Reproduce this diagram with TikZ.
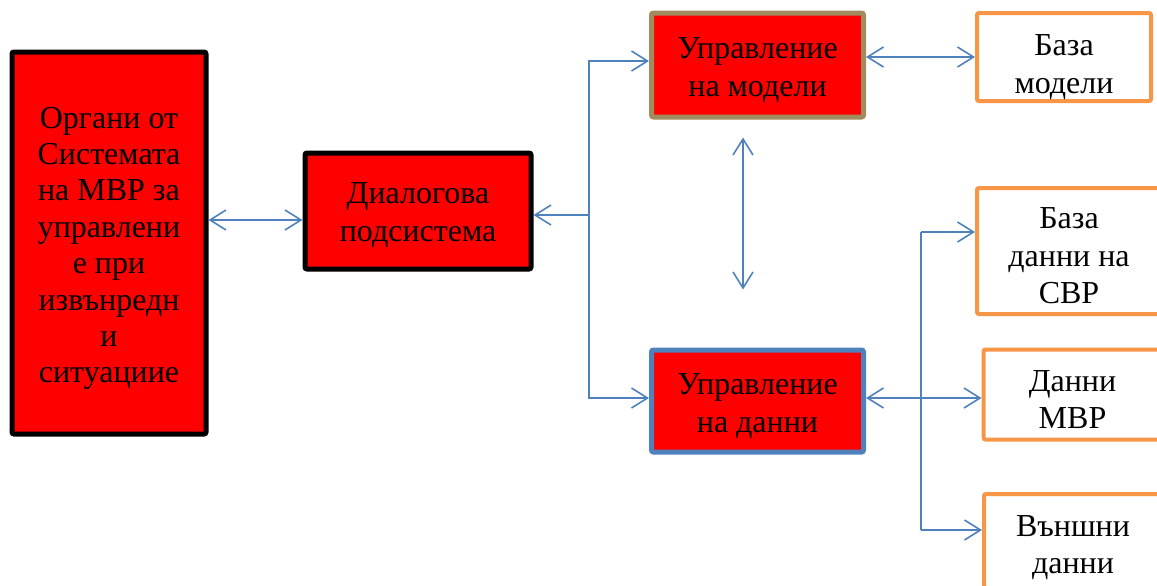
\documentclass[tikz,border=0pt]{standalone}
\usepackage{fontspec}
\setmainfont{Liberation Serif}
\usepackage{xcolor}
\usetikzlibrary{arrows.meta}
\definecolor{linkblue}{HTML}{4F81BD}
\definecolor{boxorange}{HTML}{F79646}
\definecolor{boxolive}{HTML}{A08C5F}
\newcommand{\drop}[1]{\rule{0pt}{#1}}
\begin{document}
\begin{tikzpicture}[x=0.5pt, y=-0.5pt,
		box/.style={draw, rectangle, fill=red, line width=2.5pt, rounded corners=1pt, align=center,
			inner sep=0pt, font=\fontsize{16}{18.7}\selectfont},
		store/.style={box, fill=white, draw=boxorange, line width=2pt},
		link/.style={draw=linkblue, line width=0.8pt, >={Straight Barb[length=8pt,width=10pt]}}]
				\useasboundingbox (0,0) rectangle (1157,585);
				
				\node[box, draw=black, minimum width=97pt, minimum height=191pt,
					font=\fontsize{16}{18.2}\selectfont] (Organs) at (109,243)
					{\drop{16pt}Органи от\\Системата\\на МВР за\\управлени\\е при\\извънредн\\и\\ситуациие};
				\node[box, draw=black, minimum width=113pt, minimum height=58pt] (Dialog) at (418,211)
					{\drop{14.5pt}Диалогова\\подсистема};
				\node[box, draw=boxolive, minimum width=106pt, minimum height=52pt] (Models) at (757.5,65)
					{\drop{15.5pt}Управление\\на модели};
				\node[box, draw=linkblue, minimum width=106pt, minimum height=51pt] (Data) at (757.5,401)
					{\drop{15.5pt}Управление\\на данни};
				
				\node[store, minimum width=87pt, minimum height=44pt] (ModelBase) at (1064,57) {\drop{20.5pt}База\\модели};
				\node[store, minimum width=92pt, minimum height=63pt] (SVRBase) at (1069,251) {\drop{15.5pt}База\\данни на\\СВР};
				\node[store, minimum width=89pt, minimum height=45pt] (MVRData) at (1072.5,394.5) {\drop{15.5pt}Данни\\МВР};
				\node[store, minimum width=89pt, minimum height=47pt] (OuterData) at (1073,541) {\drop{17pt}Външни\\данни};
				
				\coordinate (LeftBus) at (589,215);
				\coordinate (BusTop) at (921,232);
				\coordinate (BusBottom) at (921,530);
				
				\draw[link, <->] (Organs.east |- 0,220) -- (Dialog.west |- 0,220);
				\draw[link, <-] (Dialog.east |- LeftBus) -- (LeftBus);
				\draw[link, ->] (LeftBus) |- (Models.west |- 0,61);
				\draw[link, ->] (LeftBus) |- (Data.west |- 0,398);
				\draw[link, <->, shorten <=9pt, shorten >=29pt] (Models.south -| 743,0) -- (Data.north -| 743,0);
				\draw[link, <->] (Models.east |- ModelBase.west) -- (ModelBase.west);
				\draw[link, <->] (Data.east |- 0,398) -- (MVRData.west |- 0,398);
				\draw[link] (BusTop) -- (BusBottom);
				\draw[link, ->] (BusTop) -- (BusTop -| SVRBase.west);
				\draw[link, ->] (BusBottom) -- (BusBottom -| OuterData.west);
			\end{tikzpicture}
\end{document}
